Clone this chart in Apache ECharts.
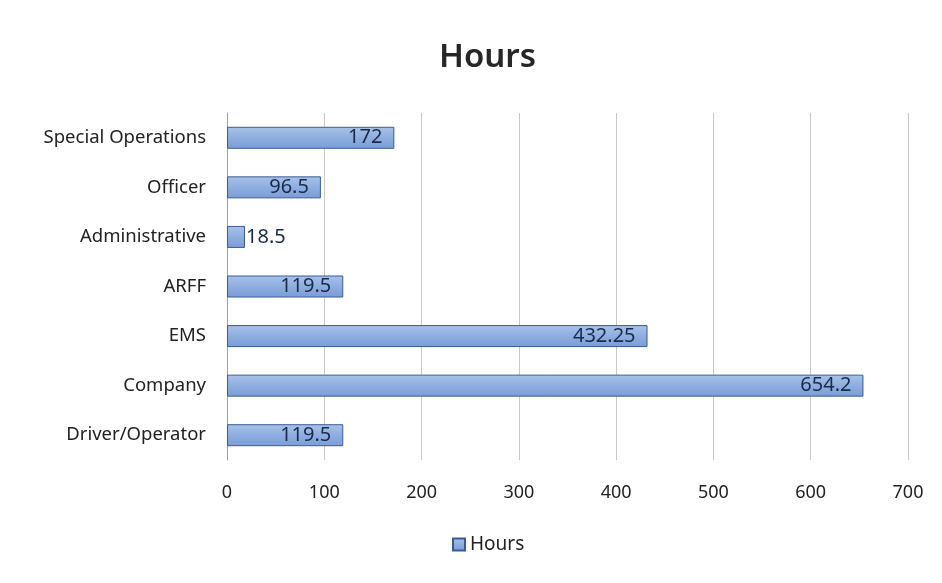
<!DOCTYPE html>
<html><head><meta charset="utf-8">
<script src="https://cdn.jsdelivr.net/npm/echarts@6/dist/echarts.min.js"></script>
<style>html,body{margin:0;padding:0;background:#fff}#c{width:942px;height:583px}</style>
</head><body><div id="c"></div>
<script>
const categories = ["Driver/Operator","Company","EMS","ARFF","Administrative","Officer","Special Operations"];
const hours = [119.5, 654.2, 432.25, 119.5, 18.5, 96.5, 172];
const xTicks = [0,100,200,300,400,500,600,700];

const chart = echarts.init(document.getElementById('c'));
const fontFam = '"Noto Sans", "Open Sans", sans-serif';
chart.setOption({
  animation:false,
  backgroundColor:'#fff',
  title:{text:'Hours',left:434,top:36,textStyle:{fontFamily:fontFam,fontSize:33,fontWeight:600,color:'#262626'}},
  legend:{data:['Hours'],bottom:24,left:447,icon:'rect',itemWidth:12,itemHeight:12,itemGap:6,
    textStyle:{fontFamily:fontFam,fontSize:19,color:'#222'}},
  grid:{left:227,right:34,top:113,bottom:123},
  xAxis:{type:'value',min:xTicks[0],max:xTicks[xTicks.length-1],interval:100,
    axisLine:{show:false},axisTick:{show:false},
    axisLabel:{fontFamily:fontFam,fontSize:18,color:'#222',margin:24},
    splitLine:{show:true,lineStyle:{color:'#c8c8c8',width:1}}},
  yAxis:{type:'category',data:categories,
    axisLine:{show:true,lineStyle:{color:'#a0a0a0'}},axisTick:{show:false},
    axisLabel:{fontFamily:fontFam,fontSize:18.5,color:'#222',margin:21}},
  series:[{name:'Hours',type:'bar',barWidth:22,
    data:hours.map(v=>({value:v,label:{position: v<40?'right':'insideRight', distance: v<40?1:12}})),
    itemStyle:{
      color:new echarts.graphic.LinearGradient(0,0,0,1,[
        {offset:0,color:'#a9c3e8'},{offset:0.5,color:'#8eaee0'},{offset:1,color:'#7b9dd6'}]),
      borderColor:'#3a5a96',borderWidth:1},
    label:{show:true,fontFamily:fontFam,fontSize:20,color:'#1a2a4a'}
  }]
});
</script></body></html>
